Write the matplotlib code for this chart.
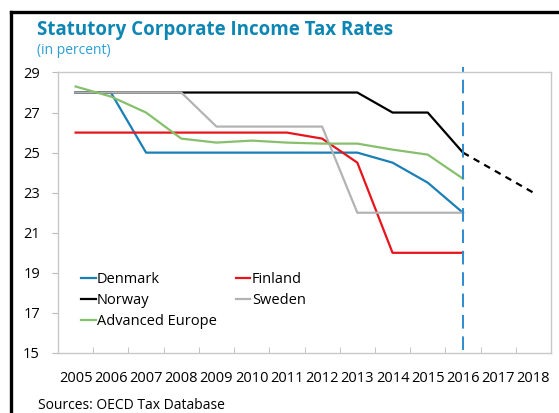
import matplotlib.pyplot as plt
from matplotlib.lines import Line2D
import numpy as np

plt.rcParams['font.family'] = ['Open Sans', 'DejaVu Sans']

years = list(range(2005, 2019))
hist_years = list(range(2005, 2017))

denmark = [28, 28, 25, 25, 25, 25, 25, 25, 25, 24.5, 23.5, 22]
finland = [26, 26, 26, 26, 26, 26, 26, 25.7, 24.5, 20, 20, 20]
norway = [28, 28, 28, 28, 28, 28, 28, 28, 28, 27, 27, 25]
sweden = [28, 28, 28, 28, 26.3, 26.3, 26.3, 26.3, 22, 22, 22, 22]
adv_europe = [28.3, 27.8, 27.0, 25.7, 25.5, 25.6, 25.5, 25.45, 25.45, 25.15, 24.9, 23.7]
norway_proj_years = [2016, 2017, 2018]
norway_proj = [25, 24, 23]

BLUE = "#1a7fb5"
RED = "#e8141b"
GRAY = "#b3b3b3"
GREEN = "#86c06c"

fig = plt.figure(figsize=(5.59, 4.13), dpi=100)
ax = fig.add_axes([0.1038, 0.1453, 0.8819, 0.6792])

x_hist = np.array(hist_years) - 2005
l_dk, = ax.plot(x_hist, denmark, color=BLUE, lw=1.6, label="Denmark")
l_fi, = ax.plot(x_hist, finland, color=RED, lw=1.6, label="Finland")
l_no, = ax.plot(x_hist, norway, color="black", lw=1.6, label="Norway")
l_se, = ax.plot(x_hist, sweden, color=GRAY, lw=1.6, label="Sweden")
l_eu, = ax.plot(x_hist, adv_europe, color=GREEN, lw=1.6, label="Advanced Europe")
ax.plot(np.array(norway_proj_years) - 2005, norway_proj, color="black", lw=1.6,
        ls=(0, (3, 2.5)))

# forecast marker line
ax.axvline(2016 - 2005, ymin=0.01, ymax=1.02, color="#2e8bcf", lw=1.4,
           ls=(0, (7, 4)), clip_on=False)

ax.set_xlim(-0.5, len(years) - 0.5)
ax.set_ylim(15, 29)
ax.set_yticks(range(15, 30, 2))
ax.set_xticks(range(len(years)))
ax.set_xticklabels([str(y) for y in years])
ax.set_xticks(np.arange(-0.5, len(years), 1), minor=True)

ax.tick_params(axis="x", which="major", length=0, pad=13, labelsize=10.5)
ax.tick_params(axis="x", which="minor", length=4, direction="in", color="#bbbbbb")
ax.tick_params(axis="y", length=4, direction="out", color="#bbbbbb", pad=9,
               labelsize=10.5)

for s in ax.spines.values():
    s.set_color("#c8c8c8")
    s.set_linewidth(1)

# column-major order so rows read Denmark/Finland, Norway/Sweden, Advanced Europe
handles = [l_dk, l_no, l_eu, l_fi, l_se]
ax.legend(handles, [h.get_label() for h in handles], loc="lower left",
          bbox_to_anchor=(0.02, 0.04), ncol=2, frameon=False,
          handlelength=1.0, handletextpad=0.1, columnspacing=1.3,
          labelspacing=0.4, fontsize=10.5)

fig.text(0.066, 0.927, "Statutory Corporate Income Tax Rates", color="#0e86b4",
         fontsize=13.5, fontweight="bold", va="center")
fig.text(0.066, 0.878, "(in percent)", color="#2a9fd6", fontsize=10, va="center")
fig.text(0.068, 0.018, "Sources: OECD Tax Database", fontsize=10, va="center")

# black frame at top and left
fig.add_artist(Line2D([0.0197, 0.0197], [0, 0.971], color="black", lw=2.4,
                      transform=fig.transFigure))
fig.add_artist(Line2D([0.0197, 1.0], [0.971, 0.971], color="black", lw=2.4,
                      transform=fig.transFigure))

plt.savefig("out.png", dpi=100)
